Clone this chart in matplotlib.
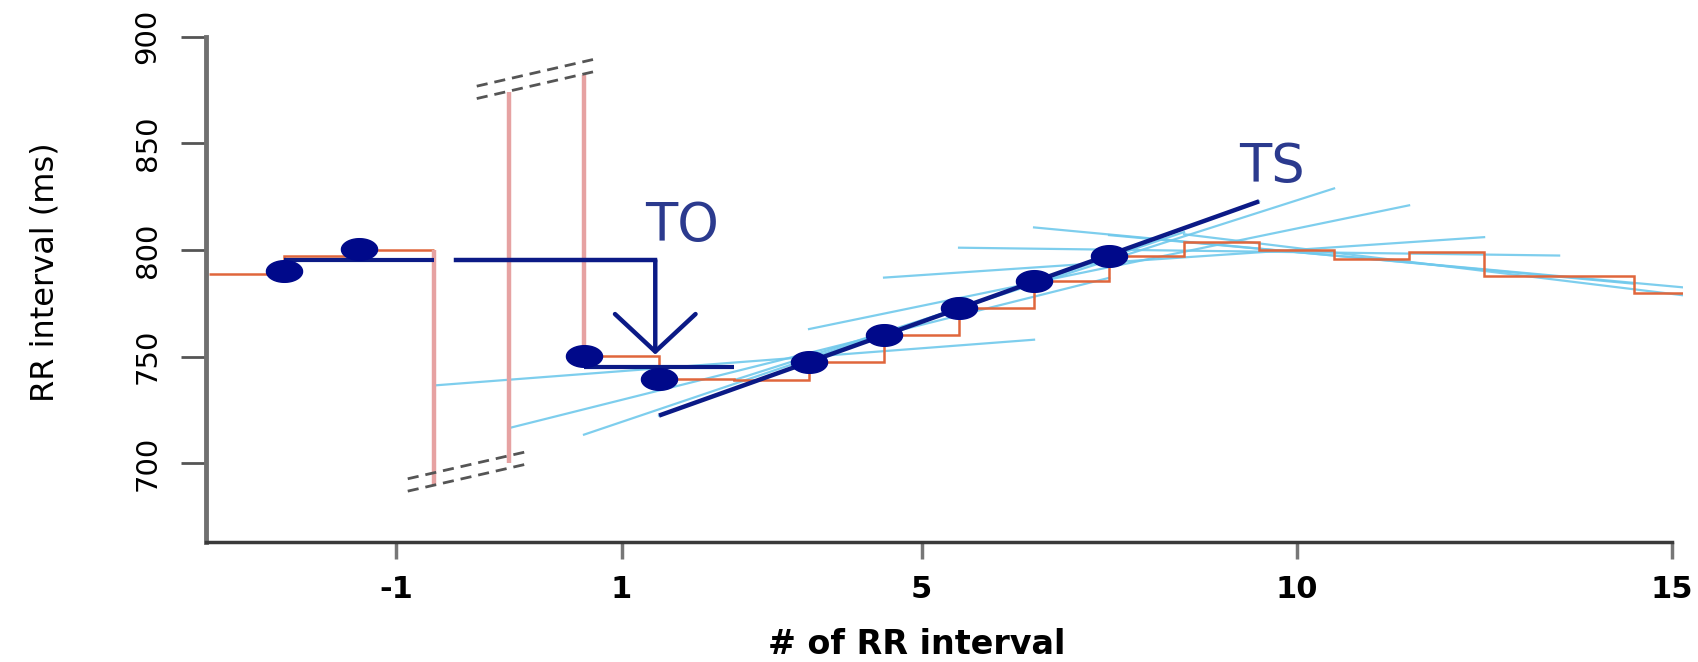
# Heart rate turbulence: RR tachogram around a VPC with TO and TS

import matplotlib
matplotlib.use("Agg")
import matplotlib.pyplot as plt
import numpy as np
from matplotlib import font_manager

# beat positions: -4..-2 before the VPC, -1 coupling, 0 compensatory pause, 1..15 after
pre_pos = np.array([-4, -3, -2])
pre_rr = np.array([789, 797, 800])
pre_dot_pos = np.array([-3, -2])
pre_dot_rr = np.array([790, 800.5])

post_pos = np.arange(1, 16)
post_rr = np.array([750.5, 739.5, 739, 747.3, 760, 773, 785.5, 797.3,
                    804, 800, 796, 799, 788, 788, 780])
post_dot_pos = np.array([1, 2, 4, 5, 6, 7, 8])

# coupling interval and compensatory pause run off the scale (broken axis)
jump_x = np.array([-1.5, -0.5, 0.5])
jump_from = np.array([800, 700, 882])
jump_to = np.array([690, 874, 750])
break_lo_x = [-1.85, -0.29]
break_lo_y = [687, 699.5]
break_hi_x = [-0.93, 0.62]
break_hi_y = [871, 883.5]
break_gap = 5.8

to_start = -1.2
to_x = 1.45
to_tip = 751
to_label_pos = (1.81, 811.5)
ts_label_pos = (9.67, 839)

xticks = [-2, 1, 5, 10, 15]
xtick_labels = ["-1", "1", "5", "10", "15"]
yticks = [700, 750, 800, 850, 900]

red = "#E0663C"
pink = "#E6A2A2"
navy = "#0B1A86"
dot_navy = "#00098A"
text_navy = "#2B3A8E"
light = "#70C9EC"

names = {f.name for f in font_manager.fontManager.ttflist}
if "Liberation Sans Narrow" in names:
    narrow, ytick_size, ytitle_size = "Liberation Sans Narrow", 26, 30
else:
    narrow, ytick_size, ytitle_size = "DejaVu Sans", 21, 23

fig = plt.figure(figsize=(16.98, 6.62), dpi=100)
ax = fig.add_axes([0.1213, 0.1817, 0.8698, 0.7629])
ax.set_xlim(-4.54, 15.15)
ax.set_ylim(663.3, 900)

# sliding 5-beat regressions (light) and the steepest one = TS (dark)
slopes = []
for k in range(len(post_rr) - 4):
    xs = post_pos[k:k + 5] - 0.5
    b, a = np.polyfit(xs, post_rr[k:k + 5], 1)
    slopes.append(b)
    xl = np.array([xs[0] - 2, xs[-1] + 2])
    ax.plot(xl, a + b * xl, color=light, lw=1.6, alpha=0.9, zorder=2)
k_ts = int(np.argmax(slopes))
xs = post_pos[k_ts:k_ts + 5] - 0.5
b, a = np.polyfit(xs, post_rr[k_ts:k_ts + 5], 1)
xl = np.array([xs[0] - 2, xs[-1] + 2])
ax.plot(xl, a + b * xl, color=navy, lw=3.2, zorder=5, solid_capstyle="butt")

# tachogram steps
ax.stairs(pre_rr, np.append(pre_pos - 0.5, pre_pos[-1] + 0.5), baseline=None,
          color=red, lw=1.8, zorder=3)
ax.stairs(post_rr, np.append(post_pos - 0.5, post_pos[-1] + 0.5), baseline=None,
          color=red, lw=1.8, zorder=3)
ax.vlines(jump_x, jump_from, jump_to, color=pink, lw=3.2, zorder=3)

# axis break marks
for bx, by in [(break_lo_x, break_lo_y), (break_hi_x, break_hi_y)]:
    for off in (0, break_gap):
        ax.plot(bx, np.array(by) + off, color="#555555", lw=2, ls=(0, (4, 2.5)), zorder=3)

# turbulence onset: mean before vs mean after
pre_mean = pre_dot_rr.mean()
post_mean = post_rr[:2].mean()
ax.hlines(pre_mean, pre_dot_pos[0] - 0.5, jump_x[0], color=navy, lw=3, zorder=4)
ax.hlines(post_mean, post_pos[0] - 0.5, post_pos[1] + 0.5, color=navy, lw=3, zorder=4)
ax.plot([to_start, to_x], [pre_mean, pre_mean], color=navy, lw=3.2, zorder=4)
ax.annotate("", xy=(to_x, to_tip), xytext=(to_x, pre_mean),
            arrowprops=dict(arrowstyle="->,head_length=1.35,head_width=1.45",
                            color=navy, lw=3.2, shrinkA=0, shrinkB=0,
                            mutation_scale=20), zorder=4)

# beat dots (ellipses, as in the stretched original)
t = np.linspace(0, 2 * np.pi, 60)
oval = np.column_stack([np.cos(t), 0.6 * np.sin(t)])
ax.plot(pre_dot_pos - 0.5, pre_dot_rr, ls="none", marker=oval, ms=26,
        color=dot_navy, zorder=6)
ax.plot(post_dot_pos - 0.5, post_rr[post_dot_pos - 1], ls="none", marker=oval, ms=26,
        color=dot_navy, zorder=6)

ax.text(*to_label_pos, "TO", fontsize=38, color=text_navy, ha="center", va="center")
ax.text(*ts_label_pos, "TS", fontsize=38, color=text_navy, ha="center", va="center")

# axes in the R "bty=l" look
for s in ["top", "right"]:
    ax.spines[s].set_visible(False)
ax.spines["left"].set_color("#707070")
ax.spines["left"].set_linewidth(3.5)
ax.spines["bottom"].set_color("#3a3a3a")
ax.spines["bottom"].set_linewidth(2.5)
ax.spines["bottom"].set_bounds(-4.54, 15)

ax.set_xticks(xticks)
ax.set_xticklabels(xtick_labels, fontsize=22, fontweight="bold")
ax.set_yticks(yticks)
ax.set_yticklabels([str(v) for v in yticks], rotation=90, va="center",
                   fontsize=ytick_size, family=[narrow, "DejaVu Sans"])
ax.tick_params(axis="y", length=18, width=2, color="#555555", pad=14)
ax.tick_params(axis="x", length=12, width=2.5, color="#777777", pad=12)

fig.text(917 / 1698, 1 - 645 / 662, "# of RR interval", fontsize=24,
         fontweight="bold", ha="center", va="center")
fig.text(45 / 1698, 1 - 272 / 662, "RR interval (ms)", fontsize=ytitle_size,
         rotation=90, ha="center", va="center", family=[narrow, "DejaVu Sans"])

fig.savefig("out.png", dpi=100)
